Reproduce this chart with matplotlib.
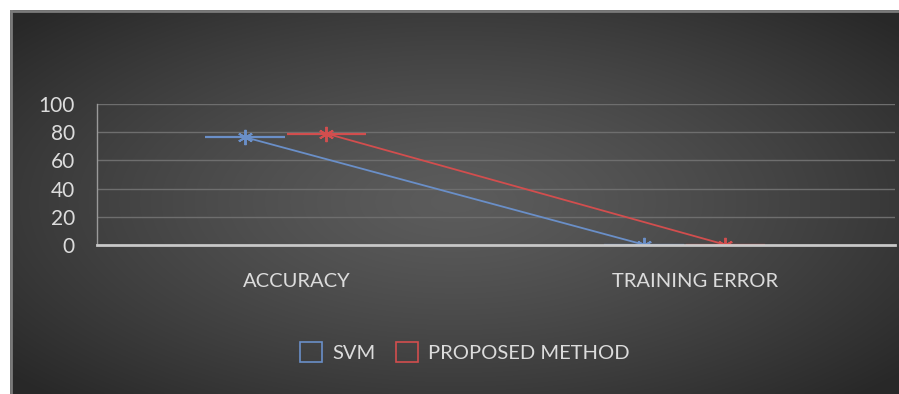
import numpy as np
import matplotlib
matplotlib.use("Agg")
import matplotlib.pyplot as plt
from matplotlib.patches import Patch

categories = ["ACCURACY", "TRAINING ERROR"]
series_names = ["SVM", "PROPOSED METHOD"]
svm_values = [76.5, 0.3]
proposed_values = [79.0, 0.2]
y_ticks = [0, 20, 40, 60, 80, 100]

colors = ["#6a8fc8", "#d24e4e"]
offsets = [-0.13, 0.075]
FONT = ["Lato", "DejaVu Sans"]
TXT = "#dcdcdc"

fig = plt.figure(figsize=(8.99, 3.94), dpi=100)
fig.patch.set_facecolor("white")

# dark radial gradient background
bg = fig.add_axes([10/899, 0, 889/899, 384/394])
ny, nx = 200, 460
yy, xx = np.mgrid[-1:1:ny*1j, -1:1:nx*1j]
r = np.sqrt((xx*0.95)**2 + (yy*0.9)**2)
r = np.clip(r, 0, 1.25) / 1.25
lev = 0.36 - 0.2 * r**1.3
img = np.dstack([lev, lev, lev])
bg.imshow(img, aspect="auto", extent=[0, 1, 0, 1], interpolation="bilinear")
bg.set_xlim(0, 1); bg.set_ylim(0, 1)
bg.axis("off")
bg.plot([0.0015, 0.0015], [0, 0.997], color="#7a7a7a", lw=2)
bg.plot([0, 1], [0.997, 0.997], color="#7a7a7a", lw=2)

ax = fig.add_axes([97/899, (394-245)/394, 798/899, 141/394])
ax.set_facecolor("none")
x = np.arange(len(categories))
for vals, col, off, name in zip([svm_values, proposed_values], colors, offsets, series_names):
    xs = x + off
    ax.errorbar(xs, vals, xerr=0.1, color=col, lw=1.3, elinewidth=1.6, capsize=0,
                marker=(6, 2, 0), markersize=11, markeredgewidth=1.4, label=name, zorder=3)

ax.set_xlim(-0.5, 1.5)
ax.set_ylim(0, 100)
ax.set_yticks(y_ticks)
ax.set_yticklabels([str(t) for t in y_ticks], fontfamily=FONT, fontsize=15, color=TXT)
ax.set_xticks(x)
ax.set_xticklabels(categories, fontfamily=FONT, fontsize=14.5, color=TXT)
ax.tick_params(axis="both", length=0)
ax.tick_params(axis="y", pad=16)
ax.tick_params(axis="x", pad=20)
for t in y_ticks[1:]:
    ax.axhline(t, color="#6e6e6e", lw=1.0, zorder=1)
for s in ["top", "right"]:
    ax.spines[s].set_visible(False)
ax.spines["left"].set_color("#9a9a9a")
ax.spines["left"].set_linewidth(1.0)
ax.spines["bottom"].set_color("#c8c8c8")
ax.spines["bottom"].set_linewidth(2.0)
ax.spines["bottom"].set_zorder(4)

handles = [Patch(facecolor="none", edgecolor=c, lw=1.2) for c in colors]
leg = fig.legend(handles, series_names, loc="center", bbox_to_anchor=(465/899, 1-352/394),
                 ncol=2, frameon=False, handlelength=1.1, handleheight=1.1,
                 handletextpad=0.5, columnspacing=1.0,
                 prop={"family": FONT, "size": 14.5})
for t in leg.get_texts():
    t.set_color(TXT)

fig.savefig("out.png", dpi=100, facecolor=fig.get_facecolor())
